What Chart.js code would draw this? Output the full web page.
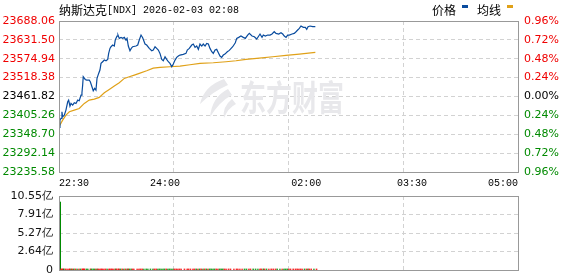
<!DOCTYPE html>
<html><head><meta charset="utf-8">
<script src="https://cdn.jsdelivr.net/npm/chart.js@4/dist/chart.umd.min.js"></script>
<style>
html,body{margin:0;padding:0;background:#fff;overflow:hidden}
#wrap{position:relative;width:578px;height:276px;overflow:hidden}
#c1{position:absolute;left:0;top:0}
#c2{position:absolute;left:0;top:183px}
</style></head><body>
<div id="wrap">
<canvas id="c1" width="578" height="192"></canvas>
<canvas id="c2" width="578" height="101"></canvas>
</div>
<script>
// ---------- data ----------
const INDEX_NAME = '纳斯达克';
const TITLE_REST = '[NDX] 2026-02-03 02:08';
const LEGEND_LABELS = ['价格', '均线'];
const WATERMARK = '东方财富';
const PREV_CLOSE = 23461.82;

const timeLabels = ['22:30', '24:00', '02:00', '03:30', '05:00'];
const timeLabelMinutes = [0, 90, 210, 300, 390];
const gridMinutes = [0, 97.5, 195, 292.5, 390];

const priceTicks = [23235.58, 23292.14, 23348.70, 23405.26, 23461.82, 23518.38, 23574.94, 23631.50, 23688.06];
const pctTicks = [-0.96, -0.72, -0.48, -0.24, 0, 0.24, 0.48, 0.72, 0.96];
const volTicks = [0, 2.64, 5.27, 7.91, 10.55];

// minutes after 22:30
const priceMinutes = [0,0.8,1.7,2.5,3.1,4.5,5.9,7.4,8.2,9.3,
10.2,11.6,13,14.4,15.9,17.2,18.7,19.5,20.1,20.6,
22.3,23.5,25.7,26.6,28,29.1,30.3,31.4,32.3,33.7,
34.8,35.7,37.1,38.5,39.9,41.4,42.2,43.3,44.2,45.6,
47,47.8,49.3,50.1,51.2,52.7,54.1,55.5,56.9,57.8,
58.9,60.3,61.4,62.6,65.4,66.9,68.2,69.7,71.1,73.1,
74.5,76.7,78.8,80.1,81.6,83,84.4,85.8,87.3,88.6,
90.1,91.5,92.9,94.3,95.8,97.1,98.6,100,101.4,102.8,
105.6,107.9,109,110.7,112.8,114.1,115.6,117,118.4,119.8,
121.3,122.6,124.1,125.5,126.9,128.3,129.8,131.1,132.6,134,
135.4,136.8,138.2,139.6,141,143,144.7,147.6,149.8,151,
152.7,154.6,156.6,158.3,160.3,161.7,164,166,168,169.7,
170.8,172.5,173.6,175.3,177.3,179.3,181,182.9,184.4,186.7,
188.6,190.1,191.4,192.9,194.3,195.7,198,199.9,201.4,202.8,
204.2,205.6,207.6,209.3,210.5,211.6,213.3,215.6,217.8];

const priceValues = [23369,23391,23396,23416,23401,23406,23421,23446,23451,23433,
23441,23436,23443,23441,23451,23449,23466,23473,23496,23521,
23513,23511,23511,23506,23491,23479,23486,23481,23516,23531,
23541,23561,23566,23571,23569,23573,23591,23606,23611,23616,
23613,23631,23643,23646,23636,23639,23636,23639,23631,23636,
23613,23599,23606,23611,23613,23616,23631,23646,23638,23619,
23616,23606,23599,23601,23611,23606,23601,23591,23573,23569,
23581,23573,23566,23561,23551,23559,23571,23579,23583,23586,
23588,23591,23601,23606,23616,23619,23609,23613,23603,23619,
23613,23619,23613,23621,23619,23606,23596,23591,23601,23603,
23593,23583,23579,23586,23589,23596,23600,23611,23623,23636,
23639,23643,23639,23636,23646,23651,23643,23641,23634,23643,
23649,23639,23646,23643,23646,23646,23649,23656,23651,23649,
23653,23649,23643,23639,23646,23646,23649,23651,23656,23661,
23666,23673,23669,23669,23663,23671,23673,23671,23671];

const avgMinutes = [0,3.1,5.9,8.8,13,17.2,21.5,25.7,30,34.2,38.5,42.7,47,51.2,55.5,59.7,64,68.2,74.5,80.1,85.8,94.3,102.8,111.3,119.8,131.1,141.9,150.4,158.9,170.2,181.6,192.9,204.2,217.8];
const avgValues = [23371,23391,23406,23416,23421,23426,23441,23451,23454,23459,23473,23483,23493,23503,23516,23521,23526,23531,23539,23547,23549,23551,23553,23557,23561,23563,23566,23569,23573,23577,23581,23585,23589,23594];

// volume in 亿, one bar per price sample (bar drawn at the end of its minute)
const volValues = [9.69,0.12,0.10,0.11,0.09,0.10,0.08,0.10,0.09,0.08,
0.09,0.07,0.08,0.07,0.08,0.07,0.09,0.08,0.10,0.11,
0.08,0.07,0.07,0.06,0.08,0.07,0.06,0.07,0.09,0.08,
0.08,0.09,0.07,0.07,0.06,0.06,0.08,0.08,0.07,0.07,
0.06,0.08,0.07,0.06,0.06,0.05,0.06,0.05,0.06,0.05,
0.07,0.06,0.05,0.05,0.05,0.05,0.06,0.06,0.05,0.06,
0.05,0.05,0.05,0.04,0.05,0.04,0.05,0.05,0.06,0.05,
0.05,0.05,0.04,0.05,0.05,0.04,0.05,0.05,0.04,0.04,
0.04,0.04,0.05,0.04,0.05,0.04,0.04,0.04,0.04,0.05,
0.04,0.04,0.04,0.05,0.04,0.04,0.05,0.04,0.04,0.04,
0.04,0.04,0.03,0.04,0.04,0.04,0.04,0.04,0.05,0.05,
0.04,0.04,0.04,0.04,0.04,0.05,0.04,0.04,0.04,0.04,
0.04,0.03,0.04,0.04,0.03,0.04,0.04,0.04,0.04,0.04,
0.04,0.03,0.04,0.04,0.03,0.04,0.04,0.04,0.04,0.04,
0.04,0.05,0.04,0.04,0.03,0.04,0.04,0.04,0.05];

// ---------- styles ----------
const RED = '#f00000', GREEN = '#008a00', BLACK = '#000';
const PRICE_COLOR = '#0a4c9e', AVG_COLOR = '#e0a118';
const GRID_COLOR = '#d2d2d2', FRAME_COLOR = '#999';
const AXIS_FONT = {family: '"DejaVu Sans"', size: 11};
const TIME_FONT = {family: '"Liberation Mono"', size: 10};
const CHART_LEFT = 59, CHART_RIGHT = 518;

function signColor(d) { return d > 1e-9 ? RED : (d < -1e-9 ? GREEN : BLACK); }

const xTickValues = [...new Set([...timeLabelMinutes, ...gridMinutes])].sort((a, b) => a - b);

function xScale(showLabels, height) {
  return {
    type: 'linear', min: 0, max: 390, offset: false,
    afterBuildTicks: s => { s.ticks = (showLabels ? xTickValues : gridMinutes).map(v => ({value: v})); },
    afterFit: s => { s.height = height; },
    ticks: {
      display: showLabels, autoSkip: false, maxRotation: 0, minRotation: 0,
      align: 'inner', padding: 5, color: BLACK, font: TIME_FONT,
      callback: v => { const i = timeLabelMinutes.indexOf(v); return i >= 0 ? timeLabels[i] : ''; }
    },
    grid: {
      offset: false, drawTicks: false, lineWidth: 1,
      color: c => (c.tick && gridMinutes.includes(c.tick.value)) ? GRID_COLOR : 'rgba(0,0,0,0)'
    },
    border: {display: false, dash: [4, 3]}
  };
}

const framePlugin = {
  id: 'frame',
  afterDraw(chart) {
    const a = chart.chartArea, ctx = chart.ctx;
    ctx.save();
    ctx.strokeStyle = FRAME_COLOR; ctx.lineWidth = 1;
    ctx.strokeRect(Math.round(a.left) + 0.5, Math.round(a.top) + 0.5,
      Math.round(a.right) - Math.round(a.left), Math.round(a.bottom) - Math.round(a.top));
    ctx.restore();
  }
};

const headerPlugin = {
  id: 'header',
  afterDraw(chart) {
    const ctx = chart.ctx;
    ctx.save();
    ctx.fillStyle = BLACK; ctx.textBaseline = 'middle'; ctx.textAlign = 'left';
    ctx.font = '12px "Noto Sans CJK SC"';
    ctx.fillText(INDEX_NAME, CHART_LEFT, 10);
    const w = ctx.measureText(INDEX_NAME).width;
    ctx.font = '10px "Liberation Mono"';
    ctx.fillText(TITLE_REST, CHART_LEFT + w, 10.5);
    // legend: text then a small colour box
    ctx.font = '12px "Noto Sans CJK SC"';
    const colors = [PRICE_COLOR, AVG_COLOR];
    const xs = [432, 477];
    LEGEND_LABELS.forEach((t, i) => {
      ctx.fillStyle = BLACK;
      ctx.fillText(t, xs[i], 10);
      const tw = ctx.measureText(t).width;
      ctx.fillStyle = colors[i];
      ctx.fillRect(Math.round(xs[i] + tw + 6), 5, 6, 3);
    });
    ctx.restore();
  }
};

const watermarkPlugin = {
  id: 'watermark',
  beforeDatasetsDraw(chart) {
    const ctx = chart.ctx;
    ctx.save();
    ctx.fillStyle = '#e8e8eb';
    // logo blades
    const blades = [
      [[224,79],[204,86],[200,104],[212,92],[228,85]],
      [[228,89],[212,97],[210,117],[220,101],[232,95]],
      [[232,99],[222,107],[224,118],[228,108],[236,104]]
    ];
    blades.forEach(b => {
      ctx.beginPath();
      ctx.moveTo(b[0][0], b[0][1]);
      ctx.quadraticCurveTo(b[1][0], b[1][1], b[2][0], b[2][1]);
      ctx.quadraticCurveTo(b[3][0], b[3][1], b[4][0], b[4][1]);
      ctx.closePath();
      ctx.fill();
    });
    ctx.translate(240, 98);
    ctx.scale(1, 1.35);
    ctx.font = 'bold 26px "Noto Sans CJK SC"';
    ctx.textBaseline = 'middle';
    ctx.fillText(WATERMARK, 0, 0);
    ctx.restore();
  }
};

// ---------- price chart ----------
new Chart(document.getElementById('c1'), {
  type: 'line',
  data: {
    datasets: [
      {label: LEGEND_LABELS[0], data: priceMinutes.map((m, i) => ({x: m, y: priceValues[i]})),
       borderColor: PRICE_COLOR, borderWidth: 1.2, pointRadius: 0, tension: 0, yAxisID: 'y'},
      {label: LEGEND_LABELS[1], data: avgMinutes.map((m, i) => ({x: m, y: avgValues[i]})),
       borderColor: AVG_COLOR, borderWidth: 1.2, pointRadius: 0, tension: 0, yAxisID: 'y'}
    ]
  },
  options: {
    responsive: false, animation: false, devicePixelRatio: 1,
    layout: {padding: {top: 21, left: 0, right: 0, bottom: 0}},
    plugins: {legend: {display: false}, tooltip: {enabled: false}, title: {display: false}},
    scales: {
      x: xScale(true, 20),
      y: {
        position: 'left', min: priceTicks[0], max: priceTicks[priceTicks.length - 1],
        afterBuildTicks: s => { s.ticks = priceTicks.map(v => ({value: v})); },
        afterFit: s => { s.width = CHART_LEFT; },
        ticks: {padding: 4, font: AXIS_FONT, callback: v => v.toFixed(2),
          color: c => signColor(c.tick.value - PREV_CLOSE)},
        grid: {drawTicks: false, color: GRID_COLOR, lineWidth: 1},
        border: {display: false, dash: [4, 3]}
      },
      yPct: {
        position: 'right', min: pctTicks[0], max: pctTicks[pctTicks.length - 1],
        afterBuildTicks: s => { s.ticks = pctTicks.map(v => ({value: v})); },
        afterFit: s => { s.width = 578 - CHART_RIGHT; },
        ticks: {padding: 6, font: AXIS_FONT, callback: v => Math.abs(v).toFixed(2) + '%',
          color: c => signColor(c.tick.value)},
        grid: {display: false, drawTicks: false},
        border: {display: false}
      }
    }
  },
  plugins: [watermarkPlugin, framePlugin, headerPlugin]
});

// ---------- volume chart ----------
const volColors = volValues.map((v, i) => i === 0 ? GREEN : (priceValues[i] >= priceValues[i - 1] ? RED : GREEN));
new Chart(document.getElementById('c2'), {
  type: 'bar',
  data: {
    datasets: [{
      data: priceMinutes.map((m, i) => ({x: m + 1, y: volValues[i]})),
      backgroundColor: volColors, borderWidth: 0, barThickness: 1, minBarLength: 1, grouped: false
    }]
  },
  options: {
    responsive: false, animation: false, devicePixelRatio: 1,
    layout: {padding: {top: 13, left: 0, right: 578 - CHART_RIGHT, bottom: 0}},
    plugins: {legend: {display: false}, tooltip: {enabled: false}},
    scales: {
      x: xScale(false, 14),
      y: {
        position: 'left', min: 0, max: volTicks[volTicks.length - 1],
        afterBuildTicks: s => { s.ticks = volTicks.map(v => ({value: v})); },
        afterFit: s => { s.width = CHART_LEFT; },
        ticks: {padding: 6, font: AXIS_FONT, color: '#111',
          callback: v => v === 0 ? '0' : v.toFixed(2) + '亿'},
        grid: {drawTicks: false, lineWidth: 1,
          color: c => (c.tick && c.tick.value > 0 && c.tick.value < volTicks[volTicks.length - 1]) ? GRID_COLOR : 'rgba(0,0,0,0)'},
        border: {display: false, dash: [4, 3]}
      }
    }
  },
  plugins: [framePlugin]
});
</script>
</body></html>
